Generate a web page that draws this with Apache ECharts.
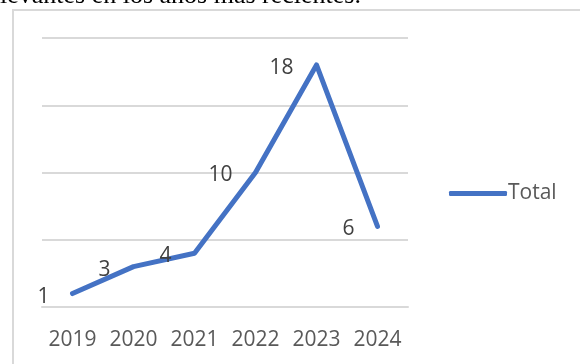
<!DOCTYPE html>
<html>
<head>
<meta charset="utf-8">
<script src="https://cdn.jsdelivr.net/npm/echarts@6/dist/echarts.min.js"></script>
<style>html,body{margin:0;padding:0;background:#fff;}#c{width:580px;height:364px;}</style>
</head>
<body>
<div id="c"></div>
<script>
var categories = ['2019', '2020', '2021', '2022', '2023', '2024'];
var totalValues = [1, 3, 4, 10, 18, 6];
var seriesName = 'Total';
var captionText = 'levantes en los años más recientes.';

var chart = echarts.init(document.getElementById('c'), null, {renderer: 'canvas'});
chart.setOption({
  animation: false,
  backgroundColor: '#fff',
  graphic: [
    {type: 'text', left: 0, top: -17, z: 10,
     style: {text: captionText, font: '26px "Liberation Serif"', fill: '#000'}},
    {type: 'rect', shape: {x: 13, y: 10, width: 620, height: 420},
     style: {fill: 'none', stroke: '#d9d9d9', lineWidth: 2}, silent: true}
  ],
  grid: {left: 42, right: 172, top: 38, bottom: 57},
  legend: {
    data: [seriesName], left: 444, top: 178, icon: 'roundRect',
    itemWidth: 58, itemHeight: 5, itemGap: 5,
    textStyle: {color: '#595959', fontSize: 21, fontFamily: 'Open Sans', padding: [0,0,0,-4]}
  },
  xAxis: {
    type: 'category', data: categories, boundaryGap: true,
    axisLine: {show: true, lineStyle: {color: '#d9d9d9', width: 2}},
    axisTick: {show: false},
    axisLabel: {interval: 0, color: '#595959', fontSize: 21, fontFamily: 'Open Sans', margin: 23}
  },
  yAxis: {
    type: 'value', min: 0, max: 20, interval: 5,
    axisLine: {show: false}, axisTick: {show: false}, axisLabel: {show: false},
    splitLine: {lineStyle: {color: '#d9d9d9', width: 2}}
  },
  series: [{
    name: seriesName, type: 'line', data: totalValues,
    symbol: 'circle', symbolSize: 2, showSymbol: true,
    itemStyle: {color: '#4472C4'},
    lineStyle: {color: '#4472C4', width: 5, cap: 'round', join: 'round'},
    label: {show: true, position: 'left', distance: 22, offset: [0, 3], color: '#404040', fontSize: 21, fontFamily: 'Open Sans'}
  }]
});
</script>
</body>
</html>
